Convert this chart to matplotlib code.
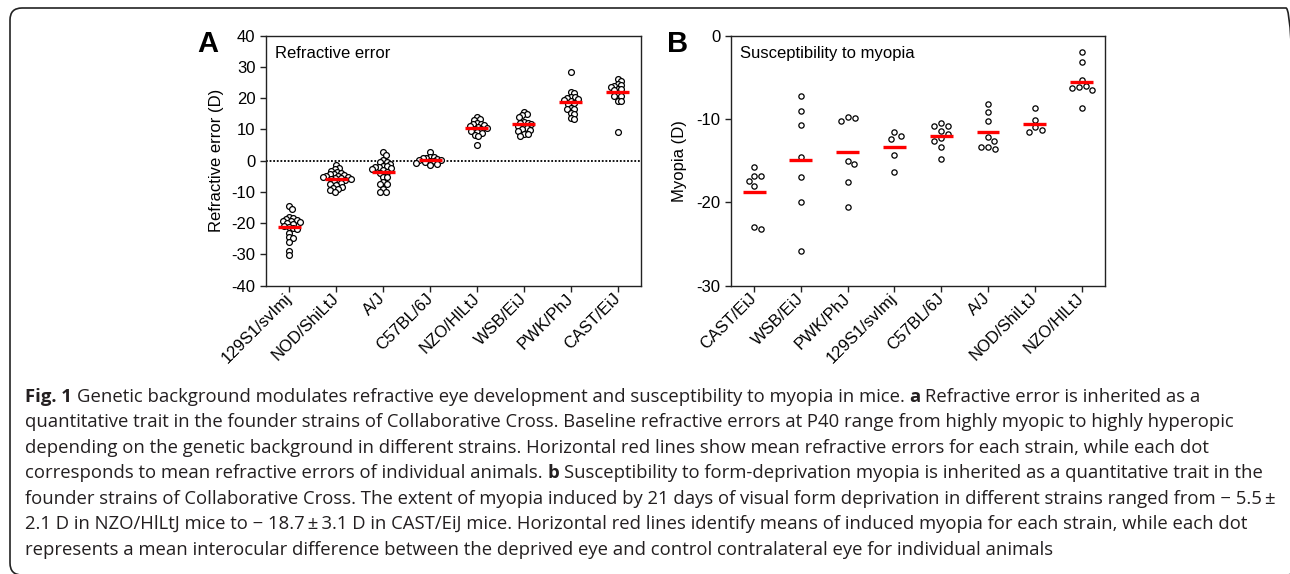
import numpy as np
import matplotlib
matplotlib.use('Agg')
import matplotlib.pyplot as plt
from matplotlib.patches import FancyBboxPatch
from matplotlib.transforms import IdentityTransform

plt.rcParams['font.family'] = ['Liberation Sans', 'DejaVu Sans']
plt.rcParams['axes.unicode_minus'] = False

W, H = 1290, 574

# ---- panel A: baseline refractive error ----
strains_a = ['129S1/svImj', 'NOD/ShiLtJ', 'A/J', 'C57BL/6J',
             'NZO/HlLtJ', 'WSB/EiJ', 'PWK/PhJ', 'CAST/EiJ']
refr_129 = [-14.4, -15.3, -18.1, -18.3, -18.7, -19.0, -19.3, -19.4, -19.7, -19.9, -20.3,
            -20.8, -21.1, -21.6, -21.7, -23.0, -24.3, -24.7, -25.9, -28.9, -30.3]
refr_nod = [-1.4, -2.4, -2.6, -3.2, -3.6, -3.9, -4.2, -4.4, -4.6, -4.8, -5.0, -5.2, -5.3, -5.5,
            -5.6, -5.8, -6.0, -6.2, -6.5, -6.8, -7.1, -7.5, -7.9, -8.3, -8.6, -9.0, -9.4, -9.9]
refr_aj = [2.7, 1.8, 0.2, -0.3, -0.3, -0.9, -1.7, -1.7, -1.9, -1.9, -2.2, -2.6, -3.0, -3.5,
           -3.8, -5.1, -5.3, -6.7, -7.3, -7.3, -9.2, -10.1, -10.1]
refr_b6 = [2.7, 1.3, 1.1, 0.8, 0.8, 0.5, 0.3, 0.2, 0.0, -0.2, -0.4, -0.6, -1.0, -1.4]
refr_nzo = [14.0, 13.4, 13.1, 12.0, 11.8, 11.6, 11.4, 11.1, 10.8, 10.5, 10.2, 10.0, 9.6, 9.2,
            8.8, 8.2, 8.0, 5.0]
refr_wsb = [15.7, 14.8, 14.6, 13.9, 12.5, 12.2, 12.0, 11.6, 11.1, 11.0, 10.4, 10.0, 9.8, 9.6,
            8.5, 8.5, 7.9]
refr_pwk = [28.5, 22.1, 21.8, 20.5, 20.3, 20.0, 19.8, 19.5, 19.0, 18.5, 18.0, 17.0, 16.7, 16.4,
            15.4, 14.9, 13.8, 13.2]
refr_cast = [26.1, 25.5, 24.7, 24.2, 24.0, 23.6, 23.1, 22.8, 22.5, 20.9, 20.7, 20.7, 19.2,
             19.0, 9.1]
refr_groups = [refr_129, refr_nod, refr_aj, refr_b6, refr_nzo, refr_wsb, refr_pwk, refr_cast]
refr_means = [-21.1, -5.8, -3.5, 0.2, 10.6, 11.6, 18.8, 22.0]

# ---- panel B: induced myopia ----
strains_b = ['CAST/EiJ', 'WSB/EiJ', 'PWK/PhJ', '129S1/svImj',
             'C57BL/6J', 'A/J', 'NOD/ShiLtJ', 'NZO/HlLtJ']
myo_cast = [-15.7, -16.8, -16.8, -17.4, -18.0, -22.9, -23.2]
myo_wsb = [-7.2, -9.0, -10.7, -14.6, -16.9, -20.0, -25.8]
myo_pwk = [-9.8, -9.9, -10.2, -15.0, -15.4, -17.6, -20.5]
myo_129 = [-11.6, -12.0, -12.4, -14.3, -16.4]
myo_b6 = [-10.5, -10.8, -10.8, -11.4, -11.8, -12.3, -12.6, -13.4, -14.8]
myo_aj = [-8.2, -9.2, -10.2, -12.1, -12.6, -13.4, -13.4, -13.6]
myo_nod = [-8.7, -10.1, -11.0, -11.3, -11.5]
myo_nzo = [-1.9, -3.1, -5.3, -6.0, -6.2, -6.3, -6.5, -8.7]
myo_groups = [myo_cast, myo_wsb, myo_pwk, myo_129, myo_b6, myo_aj, myo_nod, myo_nzo]
myo_means = [-18.7, -14.9, -14.0, -13.3, -12.0, -11.6, -10.6, -5.5]

caption = [
    [('Fig. 1', True), ('Genetic background modulates refractive eye development and susceptibility to myopia in mice.', False),
     ('a', True), ('Refractive error is inherited as a', False)],
    [('quantitative trait in the founder strains of Collaborative Cross. Baseline refractive errors at P40 range from highly myopic to highly hyperopic', False)],
    [('depending on the genetic background in different strains. Horizontal red lines show mean refractive errors for each strain, while each dot', False)],
    [('corresponds to mean refractive errors of individual animals.', False), ('b', True),
     ('Susceptibility to form-deprivation myopia is inherited as a quantitative trait in the', False)],
    [('founder strains of Collaborative Cross. The extent of myopia induced by 21 days of visual form deprivation in different strains ranged from \u2212 5.5\u2009\u00b1', False)],
    [('2.1 D in NZO/HlLtJ mice to \u2212 18.7\u2009\u00b1\u20093.1 D in CAST/EiJ mice. Horizontal red lines identify means of induced myopia for each strain, while each dot', False)],
    [('represents a mean interocular difference between the deprived eye and control contralateral eye for individual animals', False)],
]


def swarm_offsets(ax, x0, vals, diam):
    # simple beeswarm in pixel space, returns x offsets in data units
    pts = ax.transData.transform(np.column_stack([np.full(len(vals), x0), vals]))
    px_unit = ax.transData.transform((1, 0))[0] - ax.transData.transform((0, 0))[0]
    ys = pts[:, 1]
    offs = np.zeros(len(vals))
    placed = []
    for i in np.argsort(-ys):
        y = ys[i]
        cands = [0.0]
        for px, py in placed:
            dy = y - py
            if abs(dy) < diam:
                dx = np.sqrt(diam ** 2 - dy ** 2)
                cands += [px + dx, px - dx]
        cands.sort(key=abs)
        for c in cands:
            if all((c - px) ** 2 + (y - py) ** 2 >= diam ** 2 - 1e-6 for px, py in placed):
                offs[i] = c
                break
        placed.append((offs[i], y))
    return offs / px_unit


def style_axes(ax):
    for s in ax.spines.values():
        s.set_linewidth(1.0)
        s.set_color('#222222')
    ax.tick_params(axis='both', direction='out', length=4.5, width=1.0, color='#222222',
                   labelsize=12, pad=3, top=False, right=False)


def dot_plot(ax, groups, means, diam, ms):
    for i, vals in enumerate(groups):
        offs = swarm_offsets(ax, i, vals, diam)
        ax.plot(i + offs, vals, 'o', ms=ms, mfc='white', mec='black', mew=0.9,
                linestyle='none', zorder=3)
        ax.plot([i - 0.245, i + 0.245], [means[i], means[i]], color='#ff0000', lw=2.4,
                solid_capstyle='butt', zorder=4)


fig = plt.figure(figsize=(W / 100, H / 100), dpi=100)

# panel A
axA = fig.add_axes([266 / W, 1 - 285.7 / H, 375 / W, 250 / H])
axA.set_xlim(-0.5, 7.5)
axA.set_ylim(-40, 40)
axA.set_yticks(np.arange(-40, 41, 10))
axA.axhline(0, color='black', lw=1.3, linestyle=(0, (1, 1)), zorder=1)
dot_plot(axA, refr_groups, refr_means, 3.9, 4.2)
axA.set_xticks(range(len(strains_a)))
axA.set_xticklabels(strains_a, rotation=45, ha='right', va='center', rotation_mode='anchor')
axA.set_ylabel('Refractive error (D)', fontsize=12)
axA.yaxis.label.set_va('center')
axA.yaxis.set_label_coords(-0.1307, 0.5)
axA.text(0.025, 0.93, 'Refractive error', transform=axA.transAxes, fontsize=12,
         va='center', ha='left')
style_axes(axA)

# panel B
axB = fig.add_axes([730.7 / W, 1 - 285.7 / H, 374.3 / W, 250 / H])
axB.set_xlim(-0.5, 7.5)
axB.set_ylim(-30, 0)
axB.set_yticks([-30, -20, -10, 0])
dot_plot(axB, myo_groups, myo_means, 7.4, 3.8)
axB.set_xticks(range(len(strains_b)))
axB.set_xticklabels(strains_b, rotation=45, ha='right', va='center', rotation_mode='anchor')
axB.set_ylabel('Myopia (D)', fontsize=12)
axB.yaxis.label.set_va('center')
axB.yaxis.set_label_coords(-0.1355, 0.5)
axB.text(0.025, 0.93, 'Susceptibility to myopia', transform=axB.transAxes, fontsize=12,
         va='center', ha='left')
style_axes(axB)

# panel letters
fig.text(197 / W, 1 - 52 / H, 'A', fontsize=21, fontweight='bold', ha='left', va='baseline')
fig.text(667 / W, 1 - 52 / H, 'B', fontsize=21, fontweight='bold', ha='left', va='baseline')

# caption, drawn run by run so that bold parts can sit inside a line
cap_font = ['Open Sans', 'DejaVu Sans']
cap_size = 13.3
renderer = fig.canvas.get_renderer()


def text_width(s, bold=False):
    t = fig.text(0, 0, s, fontsize=cap_size, family=cap_font,
                 fontweight='bold' if bold else 'normal')
    w = t.get_window_extent(renderer=renderer).width
    t.remove()
    return w


space_w = text_width('x x') - text_width('xx')
for k, runs in enumerate(caption):
    x = 25.0
    y = 401.7 + 25.5 * k
    for j, (s, bold) in enumerate(runs):
        t = fig.text(x / W, 1 - y / H, s, fontsize=cap_size, family=cap_font,
                     fontweight='bold' if bold else 'normal', color='#231f20',
                     ha='left', va='baseline')
        x += t.get_window_extent(renderer=renderer).width + space_w

# rounded frame around the whole figure
frame = FancyBboxPatch((10, -1), 1288, 567, boxstyle='round,pad=0,rounding_size=12',
                       fill=False, edgecolor='#222222', lw=1.2, transform=IdentityTransform())
fig.add_artist(frame)

fig.savefig('out.png', dpi=100)
